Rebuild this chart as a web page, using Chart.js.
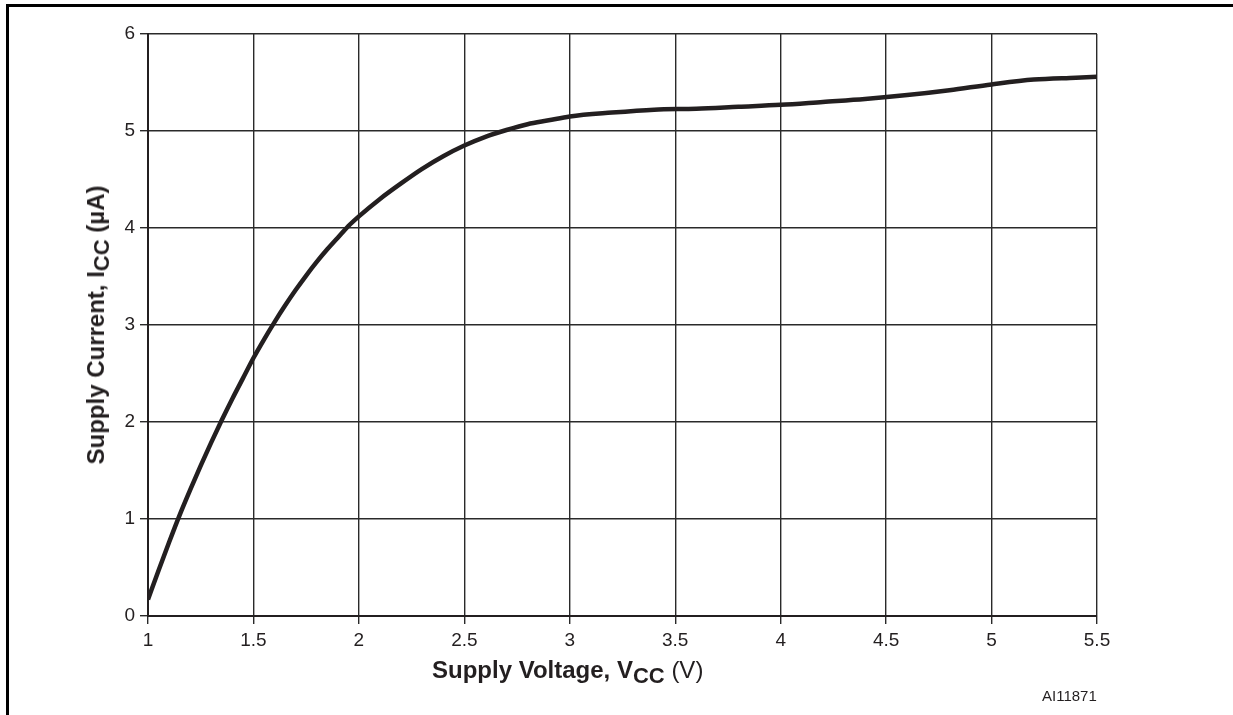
<!DOCTYPE html>
<html>
<head>
<meta charset="utf-8">
<script src="https://cdn.jsdelivr.net/npm/chart.js@4.4.1/dist/chart.umd.min.js"></script>
<style>
  body { margin: 0; background: #fff; font-family: "Liberation Sans", Arial, sans-serif; }
  #wrap { position: relative; width: 1233px; height: 715px; overflow: hidden; }
  #frame { position: absolute; left: 6px; top: 4px; width: 1300px; height: 800px;
           border-left: 3px solid #000; border-top: 3px solid #000; }
  canvas { position: absolute; left: 0; top: 0; }
  .xtitle { position: absolute; left: 432px; top: 656px; font-size: 24px; font-weight: bold; color: #231f20; white-space: nowrap; }
  .xtitle sub { font-size: 22px; vertical-align: -5px; line-height: 0; }
  .ytitle { position: absolute; left: 96px; top: 325px; transform: translate(-50%, -50%) rotate(-90deg);
            font-size: 24px; font-weight: bold; color: #231f20; white-space: nowrap; }
  .ytitle sub { font-size: 22px; vertical-align: -5px; line-height: 0; }
  .code { position: absolute; left: 1042px; top: 687px; font-size: 15px; color: #231f20; }
</style>
</head>
<body>
<div id="wrap">
  <div id="frame"></div>
  <canvas id="icc-chart" width="1233" height="715"></canvas>
  <div class="ytitle">Supply Current, I<sub>CC</sub> (µA)</div>
  <div class="xtitle">Supply Voltage, V<sub>CC</sub> <span style="font-weight:normal">(V)</span></div>
  <div class="code">AI11871</div>
</div>
<script>
const iccChart = document.getElementById("icc-chart");

// 전원 전압 (V)
let vccValues = [1.00, 1.05, 1.10, 1.15, 1.20, 1.25, 1.30, 1.35, 1.40, 1.45,
    1.50, 1.55, 1.60, 1.65, 1.70, 1.75, 1.80, 1.85, 1.90, 1.95,
    2.00, 2.10, 2.20, 2.30, 2.40, 2.50, 2.60, 2.70, 2.80, 2.90,
    3.00, 3.20, 3.40, 3.60, 3.80, 4.00, 4.20, 4.40, 4.60, 4.80,
    5.00, 5.20, 5.40, 5.50];
// 전원 전류 (uA)
let iccValues = [0.17, 0.47, 0.76, 1.04, 1.30, 1.55, 1.79, 2.02, 2.24, 2.45,
    2.66, 2.85, 3.03, 3.20, 3.36, 3.51, 3.65, 3.78, 3.90, 4.02,
    4.12, 4.30, 4.46, 4.61, 4.74, 4.85, 4.94, 5.01, 5.07, 5.11,
    5.15, 5.19, 5.22, 5.23, 5.25, 5.27, 5.30, 5.33, 5.37, 5.42,
    5.48, 5.53, 5.55, 5.56];

const points = vccValues.map((v, i) => ({ x: v, y: iccValues[i] }));

const tickFont = { family: "'Liberation Sans', Arial, sans-serif", size: 19 };

const myChart = new Chart(iccChart, {
    type: 'line',
    data: {
        datasets: [{
            data: points,
            borderColor: "#231f20",
            borderWidth: 4.5,
            pointRadius: 0,
            cubicInterpolationMode: 'monotone',
            fill: false
        }]
    },
    options: {
        responsive: false,
        animation: false,
        layout: {
            padding: { left: 0, right: 136, top: 34, bottom: 0 }
        },
        scales: {
            x: {
                type: 'linear',
                min: 1,
                max: 5.5,
                afterFit: (scale) => { scale.height = 99; },
                ticks: {
                    stepSize: 0.5,
                    color: "#231f20",
                    font: tickFont,
                    padding: 5,
                    // 1, 1.5, 2 ... 형식
                    callback: (value) => String(Math.round(value * 10) / 10)
                },
                grid: {
                    color: "#2a2a2a",
                    lineWidth: 1.4,
                    tickLength: 8,
                    tickColor: "#2a2a2a"
                },
                border: { color: "#231f20", width: 2 }
            },
            y: {
                min: 0,
                max: 6,
                afterFit: (scale) => { scale.width = 148; },
                ticks: {
                    stepSize: 1,
                    color: "#231f20",
                    font: tickFont,
                    padding: 5
                },
                grid: {
                    color: "#2a2a2a",
                    lineWidth: 1.4,
                    tickLength: 8,
                    tickColor: "#2a2a2a"
                },
                border: { color: "#231f20", width: 2 }
            }
        },
        plugins: {
            legend: { display: false },
            tooltip: { enabled: false }
        }
    }
});
</script>
</body>
</html>
